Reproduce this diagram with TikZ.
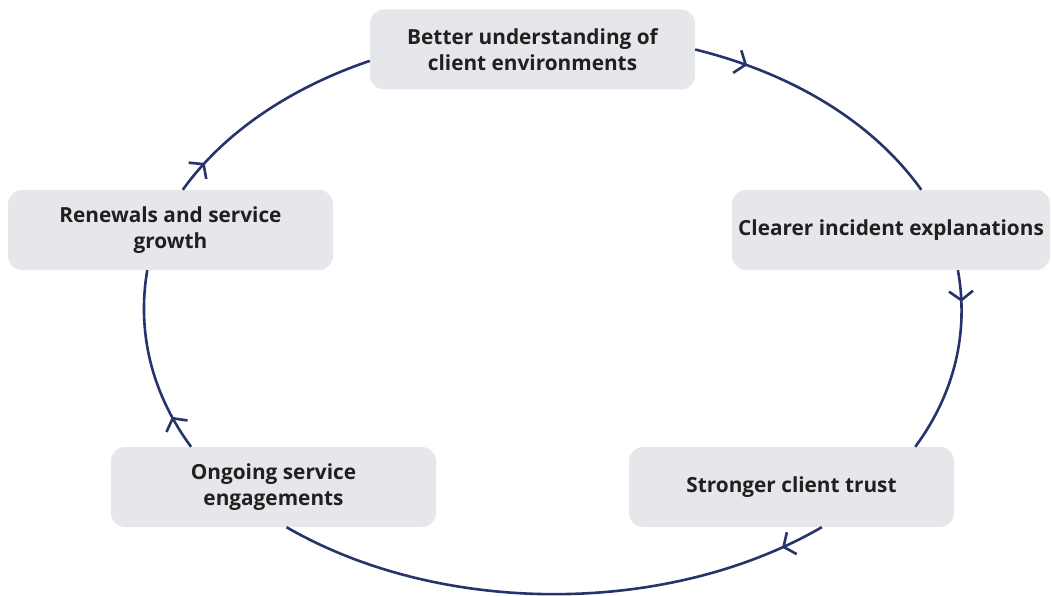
\documentclass[tikz,border=0pt]{standalone}
\usepackage{fontspec}
\setmainfont{Open Sans}
\usetikzlibrary{arrows.meta,decorations.markings}
\definecolor{navy}{HTML}{27336B}
\definecolor{boxfill}{HTML}{E6E7EB}
\definecolor{ink}{HTML}{231F20}
\begin{document}
\begin{tikzpicture}[x=1pt,y=-1pt,
  stage/.style={rectangle, rounded corners=14pt, fill=boxfill,
    minimum width=325pt, minimum height=80pt, inner sep=0pt,
    align=center, text=ink, font=\fontsize{20.8}{25.5}\selectfont\bfseries},
  cyc/.style={draw=navy, line width=2.6pt, postaction={decorate},
    decoration={markings, mark=at position #1 with
      {\arrow{Straight Barb[length=9pt,width=24pt,line width=2.6pt]}}}}]
\path[use as bounding box] (0,0) rectangle (1051,596);

% the five stages of the cycle
\node[stage] (top)  at (532.5,49.5) {Better understanding of\\client environments};
\node[stage, minimum width=318pt] (right) at (891,230) {Clearer incident explanations};
\node[stage] (trust) at (791.5,487) {Stronger client trust};
\node[stage] (ongo)  at (273.5,487) {Ongoing service\\engagements};
\node[stage] (renew) at (170.5,230) {Renewals and service\\growth};

% elliptical arcs joining the stages clockwise
\draw[cyc=0.2]  (top.east) .. controls +(100.8,24.9) and +(-46.9,-65.6) .. (right.53);
\draw[cyc=0.17] (right.-31) .. controls +(11,60.8) and +(40,-54.0) .. (trust.18);
\draw[cyc=0.08] (trust.-53) .. controls +(-154.3,89.3) and +(154.3,89.3) .. (ongo.-72);
\draw[cyc=0.19] (ongo.154) .. controls +(-40,-54.0) and +(-10.5,60.8) .. (renew.-120);
\draw[cyc=0.15] (renew.73) .. controls +(39.8,-55.7) and +(-81.5,27.6) .. (top.184);
\end{tikzpicture}
\end{document}
